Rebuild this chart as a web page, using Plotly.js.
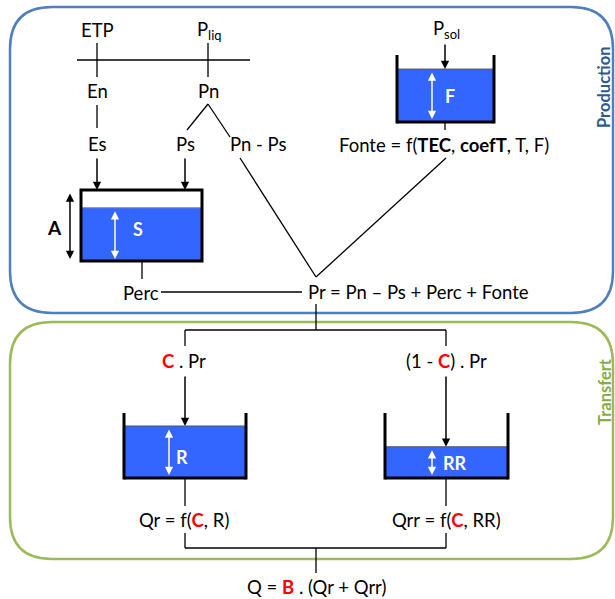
<!DOCTYPE html>
<html><head><meta charset="utf-8">
<script src="https://cdn.plot.ly/plotly-3.0.1.min.js"></script>
<style>html,body{margin:0;padding:0;background:#fff}#g{width:615px;height:599px}</style>
</head><body><div id="g"></div>
<script>
// ---- content (text & values) ----
const inputs = ['ETP', 'P<sub>liq</sub>', 'P<sub>sol</sub>'];
const prodNodes = ['En', 'Pn', 'Es', 'Ps', 'Pn - Ps', 'Perc'];
const fonteEq = 'Fonte = f(<b>TEC</b>, <b>coefT</b>, T, F)';
const prEq = 'Pr = Pn \u2013 Ps + Perc + Fonte';
const splitLabels = ['<span style="color:#ff0000"><b>C</b></span> . Pr', '(1 - <span style="color:#ff0000"><b>C</b></span>) . Pr'];
const outEqs = ['Qr = f(<span style="color:#ff0000"><b>C</b></span>, R)', 'Qrr = f(<span style="color:#ff0000"><b>C</b></span>, RR)'];
const finalEq = 'Q = <span style="color:#ff0000"><b>B</b></span> . (Qr + Qrr)';
const tankNames = ['S', 'F', 'R', 'RR'];
const tankLevels = [0.75, 0.79, 0.80, 0.48];
const capacityLabel = 'A';
const sectionNames = ['Production', 'Transfert'];

// ---- drawing ----
const FONT = 'Lato, "Open Sans", sans-serif';
const FS = 18.5;
const shapes = [], ann = [];
const BLUE = '#3366ff';
function line(x0,y0,x1,y1,c,w){shapes.push({type:'line',x0,y0,x1,y1,line:{color:c||'#000',width:w||1.3}});}
function path(d,c,w,fill){shapes.push({type:'path',path:d,line:{color:c,width:w},fillcolor:fill||'rgba(0,0,0,0)'});}
function rect(x0,y0,x1,y1,fill,lc,lw){shapes.push({type:'rect',x0,y0,x1,y1,fillcolor:fill,line:{color:lc||fill,width:lw||0}});}
function txt(t,x,y,opt){ann.push(Object.assign({text:t,x,y,xref:'x',yref:'y',showarrow:false,xanchor:'center',yanchor:'middle',font:{family:FONT,size:FS,color:'#000'}},opt||{}));}
function arrow(x0,y0,x1,y1,c,dbl){ann.push({text:'',x:x1,y:y1,ax:x0,ay:y0,xref:'x',yref:'y',axref:'x',ayref:'y',showarrow:true,arrowhead:2,startarrowhead:2,arrowside:dbl?'end+start':'end',arrowsize:1.1,startarrowsize:1.1,arrowwidth:1.5,arrowcolor:c||'#000',standoff:0,startstandoff:0});}
function rr(x0,y0,x1,y1,r){return `M${x0+r},${y0} L${x1-r},${y0} Q${x1},${y0} ${x1},${y0+r} L${x1},${y1-r} Q${x1},${y1} ${x1-r},${y1} L${x0+r},${y1} Q${x0},${y1} ${x0},${y1-r} L${x0},${y0+r} Q${x0},${y0} ${x0+r},${y0} Z`;}

// section boxes
path(rr(10,7,613,313,42),'#4f7fbd',2.5);
path(rr(10,322,613,559,42),'#9bbb59',2.5);
txt('<b>'+sectionNames[0]+'</b>',604,87,{textangle:-90,font:{family:FONT,size:16.5,color:'#2f5a8c'}});
txt('<b>'+sectionNames[1]+'</b>',605,392,{textangle:-90,font:{family:FONT,size:16.5,color:'#8aab4b'}});

// inputs
txt(inputs[0],97,30); txt(inputs[1],209,30); txt(inputs[2],446,29);
line(77,60,250,60); line(97,43,97,77); line(208,43,208,77);
txt(prodNodes[0],97,91); txt(prodNodes[1],208,91);
line(97,105,97,128);
line(208,104,187,130); line(208,104,230,137);
txt(prodNodes[2],97,144); txt(prodNodes[3],185,144); txt(prodNodes[4],258,144);
arrow(97,157,97,190); arrow(185,157,185,190);

// tank S (closed)
{const x0=81,x1=202,y0=190,y1=261,lv=y1-(y1-y0)*tankLevels[0];
 rect(x0,y0,x1,y1,'#ffffff');
 rect(x0,lv,x1,y1,BLUE);
 line(x0,lv,x1,lv,'#888',1);
 rect(x0,y0,x1,y1,'rgba(0,0,0,0)','#000',3);
 arrow(115,lv+2,115,y1-2,'#fff',true);
 txt('<b>'+tankNames[0]+'</b>',138,229,{font:{family:FONT,size:18,color:'#fff'}});
 arrow(70,y0+2,70,y1-2,'#000',true);
 txt('<b>'+capacityLabel+'</b>',54,227,{font:{family:FONT,size:19,color:'#000'}});
}
line(142,261,142,279);
txt(prodNodes[5],141,293);
line(161,292,302,292);

// tank F (open)
function openTank(x0,x1,y0,y1,lvl){const lv=y1-(y1-y0)*lvl;rect(x0,lv,x1,y1,BLUE);line(x0,lv,x1,lv,'#555',1);line(x0,y0,x0,y1+1.5,'#000',3);line(x1,y0,x1,y1+1.5,'#000',3);line(x0,y1,x1,y1,'#000',3);return lv;}
{const lv=openTank(397,494,55,122,tankLevels[1]);
 arrow(445,43,445,lv);
 arrow(432,lv+2,432,119,'#fff',true);
 txt('<b>'+tankNames[1]+'</b>',450,96,{font:{family:FONT,size:18,color:'#fff'}});
}
line(445,122,445,130);
txt(fonteEq,444,145);
// V to Pr
line(240,158,316,277); line(316,277,446,158);
txt(prEq,418,292);

// transfer
line(316,304,316,330);
line(185,330,446,330); line(185,330,185,346); line(446,330,446,346);
txt(splitLabels[0],184,361); txt(splitLabels[1],446,361);
{const lv=openTank(124,246,413,478,tankLevels[2]);
 arrow(185,375,185,lv);
 arrow(169,lv+2,169,475,'#fff',true);
 txt('<b>'+tankNames[2]+'</b>',182,457,{font:{family:FONT,size:18,color:'#fff'}});
}
{const lv=openTank(385,508,413,478,tankLevels[3]);
 arrow(446,375,446,lv);
 arrow(432,lv+2,432,475,'#fff',true);
 txt('<b>'+tankNames[3]+'</b>',455,463,{font:{family:FONT,size:18,color:'#fff'}});
}
line(185,478,185,506); line(446,478,446,506);
txt(outEqs[0],184,520); txt(outEqs[1],446,520);
line(185,533,185,548); line(446,533,446,548); line(185,548,446,548);
line(316,548,316,573);
txt(finalEq,316,587);

Plotly.newPlot('g',[],{
  width:615,height:599,margin:{l:0,r:0,t:0,b:0},
  paper_bgcolor:'#fff',plot_bgcolor:'#fff',
  xaxis:{range:[0,615],visible:false,fixedrange:true},
  yaxis:{range:[599,0],visible:false,fixedrange:true},
  shapes,annotations:ann,showlegend:false
},{staticPlot:true});
</script></body></html>
